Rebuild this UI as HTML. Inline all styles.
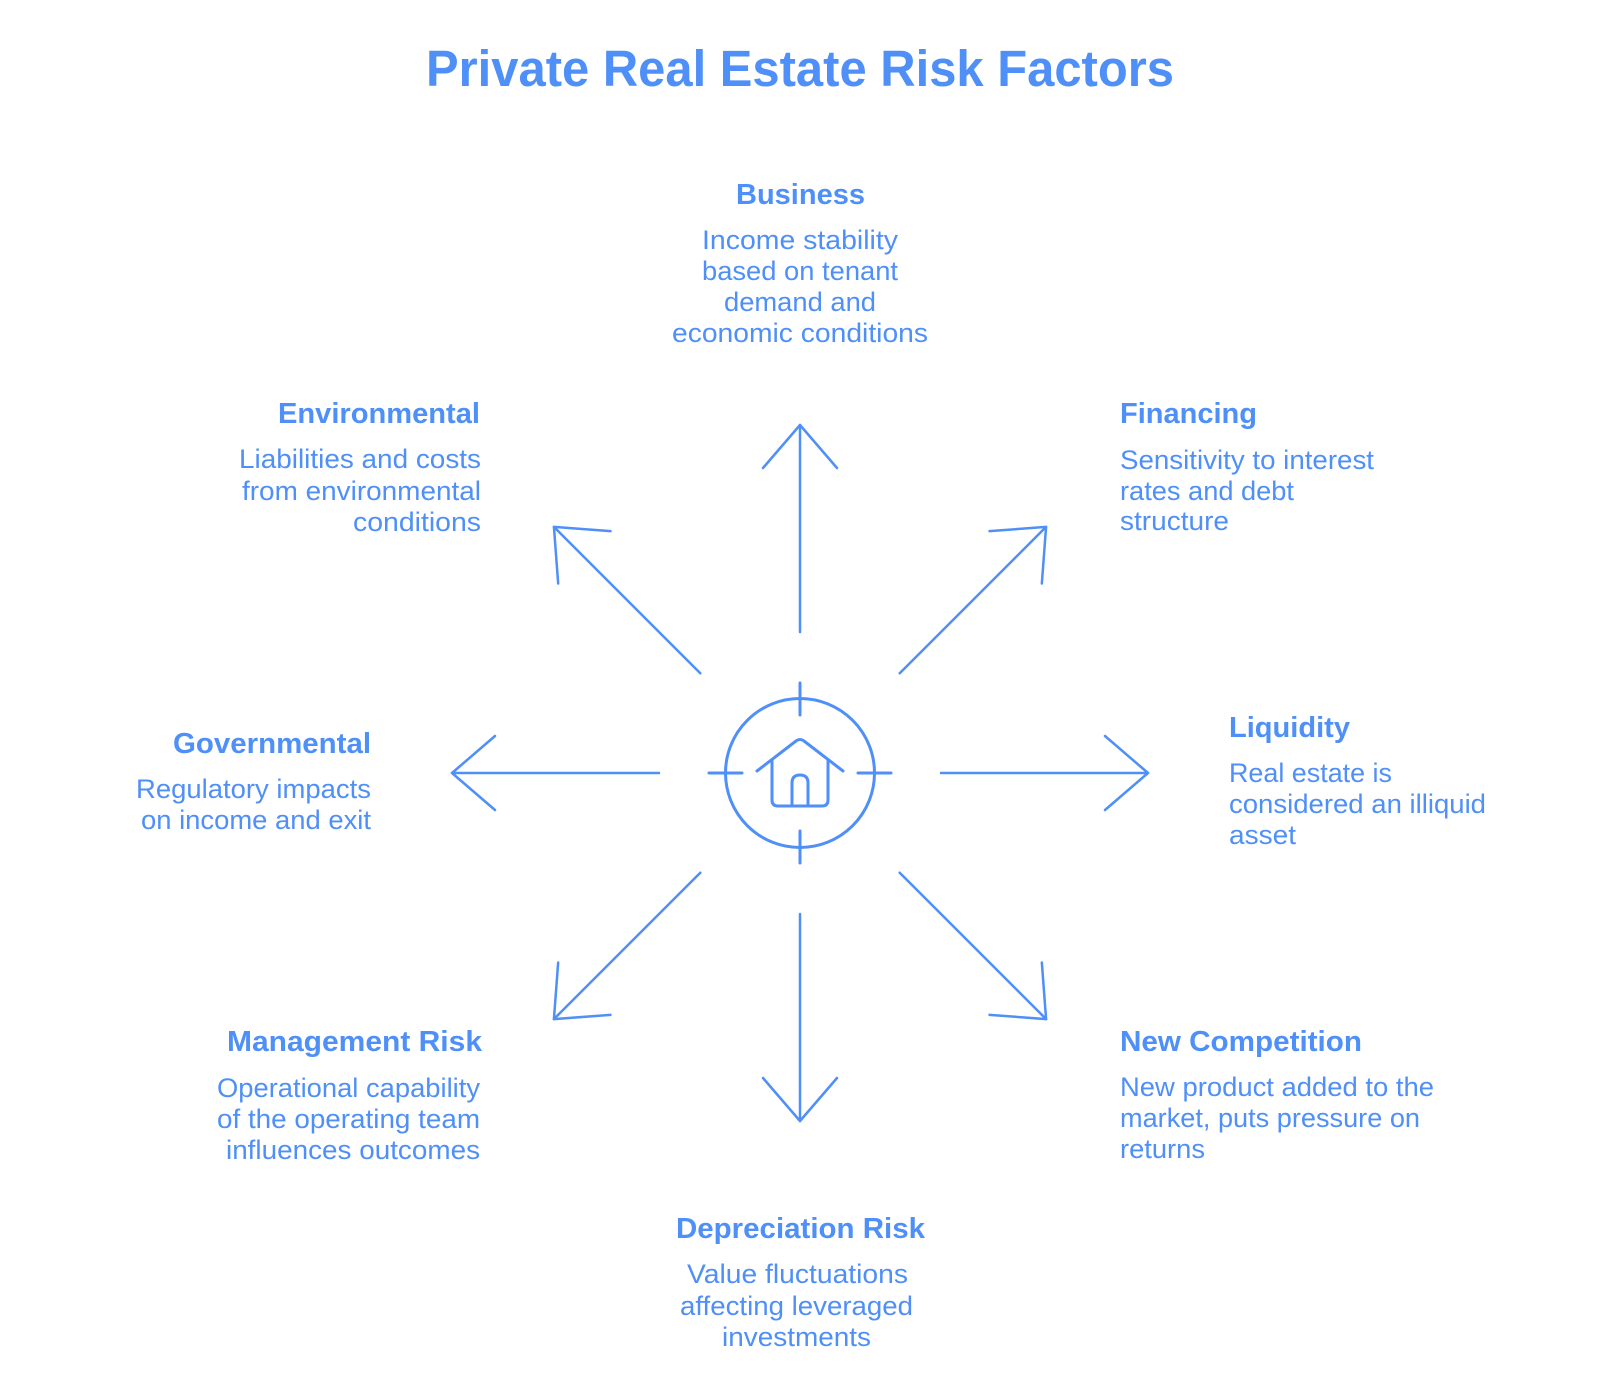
<!DOCTYPE html>
<html>
<head>
<meta charset="utf-8">
<style>
  html, body { margin: 0; padding: 0; background: #ffffff; }
  body { width: 1600px; height: 1392px; overflow: hidden; }
  svg { display: block; }
  .t { font-family: "Liberation Sans", Arial, sans-serif; fill: #4f8ff8; }
  .h { font-weight: bold; font-size: 29px; }
  .d { font-weight: normal; font-size: 27px; }
  .ttl { font-weight: bold; font-size: 51px; }
</style>
</head>
<body>
<svg width="1600" height="1392" viewBox="0 0 1600 1392" xmlns="http://www.w3.org/2000/svg">
  <rect x="0" y="0" width="1600" height="1392" fill="#ffffff"/>

  <!-- Title -->
  <text class="t ttl" x="426" y="86" textLength="748" lengthAdjust="spacingAndGlyphs">Private Real Estate Risk Factors</text>

  <!-- Arrows -->
  <g fill="none" stroke="#4f8ff8" stroke-width="2.5" stroke-linecap="round" stroke-linejoin="round">
    <g id="arr">
      <line x1="800" y1="632" x2="800" y2="425"/>
      <polyline points="763,468 800,425 837,468"/>
    </g>
    <use href="#arr" transform="rotate(45 800 773)"/>
    <use href="#arr" transform="rotate(90 800 773)"/>
    <use href="#arr" transform="rotate(135 800 773)"/>
    <use href="#arr" transform="rotate(180 800 773)"/>
    <use href="#arr" transform="rotate(225 800 773)"/>
    <use href="#arr" transform="rotate(270 800 773)"/>
    <use href="#arr" transform="rotate(315 800 773)"/>
  </g>

  <!-- Center icon -->
  <g fill="none" stroke="#4f8ff8" stroke-width="3" stroke-linecap="round" stroke-linejoin="round">
    <circle cx="800" cy="773" r="74.5"/>
    <line x1="800" y1="683" x2="800" y2="715"/>
    <line x1="800" y1="831" x2="800" y2="863"/>
    <line x1="709" y1="773" x2="742" y2="773"/>
    <line x1="858" y1="773" x2="891" y2="773"/>
    <!-- house -->
    <path d="M757 771 L796 741 Q800 738 804 741 L843 771"/>
    <path d="M772 760 L772 800 Q772 806 778 806 L822 806 Q828 806 828 800 L828 760"/>
    <path d="M792 806 L792 783 Q792 775 800 775 Q808 775 808 783 L808 806"/>
  </g>

  <!-- Business -->
  <text class="t h" x="736" y="204" textLength="129" lengthAdjust="spacingAndGlyphs">Business</text>
  <text class="t d" x="702" y="249" textLength="196" lengthAdjust="spacingAndGlyphs">Income stability</text>
  <text class="t d" x="702" y="280" textLength="196" lengthAdjust="spacingAndGlyphs">based on tenant</text>
  <text class="t d" x="724" y="311" textLength="152" lengthAdjust="spacingAndGlyphs">demand and</text>
  <text class="t d" x="672" y="342" textLength="256" lengthAdjust="spacingAndGlyphs">economic conditions</text>

  <!-- Environmental -->
  <text class="t h" x="278" y="423" textLength="202" lengthAdjust="spacingAndGlyphs">Environmental</text>
  <text class="t d" x="239" y="468" textLength="242" lengthAdjust="spacingAndGlyphs">Liabilities and costs</text>
  <text class="t d" x="242" y="500" textLength="239" lengthAdjust="spacingAndGlyphs">from environmental</text>
  <text class="t d" x="353" y="531" textLength="128" lengthAdjust="spacingAndGlyphs">conditions</text>

  <!-- Financing -->
  <text class="t h" x="1120" y="423" textLength="137" lengthAdjust="spacingAndGlyphs">Financing</text>
  <text class="t d" x="1120" y="469" textLength="254" lengthAdjust="spacingAndGlyphs">Sensitivity to interest</text>
  <text class="t d" x="1120" y="500" textLength="174" lengthAdjust="spacingAndGlyphs">rates and debt</text>
  <text class="t d" x="1120" y="530" textLength="109" lengthAdjust="spacingAndGlyphs">structure</text>

  <!-- Governmental -->
  <text class="t h" x="173" y="753" textLength="198" lengthAdjust="spacingAndGlyphs">Governmental</text>
  <text class="t d" x="136" y="798" textLength="235" lengthAdjust="spacingAndGlyphs">Regulatory impacts</text>
  <text class="t d" x="141" y="829" textLength="230" lengthAdjust="spacingAndGlyphs">on income and exit</text>

  <!-- Liquidity -->
  <text class="t h" x="1229" y="737" textLength="121" lengthAdjust="spacingAndGlyphs">Liquidity</text>
  <text class="t d" x="1229" y="782" textLength="163" lengthAdjust="spacingAndGlyphs">Real estate is</text>
  <text class="t d" x="1229" y="813" textLength="257" lengthAdjust="spacingAndGlyphs">considered an illiquid</text>
  <text class="t d" x="1229" y="844" textLength="67" lengthAdjust="spacingAndGlyphs">asset</text>

  <!-- Management Risk -->
  <text class="t h" x="227" y="1051" textLength="255" lengthAdjust="spacingAndGlyphs">Management Risk</text>
  <text class="t d" x="217" y="1097" textLength="263" lengthAdjust="spacingAndGlyphs">Operational capability</text>
  <text class="t d" x="217" y="1128" textLength="263" lengthAdjust="spacingAndGlyphs">of the operating team</text>
  <text class="t d" x="226" y="1159" textLength="254" lengthAdjust="spacingAndGlyphs">influences outcomes</text>

  <!-- New Competition -->
  <text class="t h" x="1120" y="1051" textLength="242" lengthAdjust="spacingAndGlyphs">New Competition</text>
  <text class="t d" x="1120" y="1096" textLength="314" lengthAdjust="spacingAndGlyphs">New product added to the</text>
  <text class="t d" x="1120" y="1127" textLength="300" lengthAdjust="spacingAndGlyphs">market, puts pressure on</text>
  <text class="t d" x="1120" y="1158" textLength="85" lengthAdjust="spacingAndGlyphs">returns</text>

  <!-- Depreciation Risk -->
  <text class="t h" x="676" y="1238" textLength="249" lengthAdjust="spacingAndGlyphs">Depreciation Risk</text>
  <text class="t d" x="687" y="1283" textLength="221" lengthAdjust="spacingAndGlyphs">Value fluctuations</text>
  <text class="t d" x="680" y="1315" textLength="233" lengthAdjust="spacingAndGlyphs">affecting leveraged</text>
  <text class="t d" x="722" y="1346" textLength="149" lengthAdjust="spacingAndGlyphs">investments</text>
</svg>
</body>
</html>
